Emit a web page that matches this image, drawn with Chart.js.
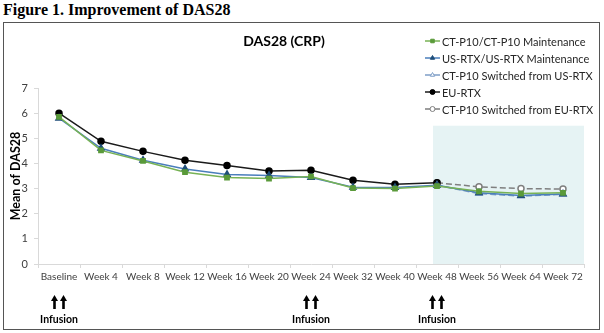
<!DOCTYPE html>
<html>
<head>
<meta charset="utf-8">
<script src="https://cdn.jsdelivr.net/npm/chart.js@4/dist/chart.umd.min.js"></script>
<style>
  html, body { margin: 0; padding: 0; background: #fff; }
  #page { position: relative; width: 604px; height: 333px; overflow: hidden; }
  #figTitle {
    position: absolute; left: 3px; top: 1px;
    font-family: "Liberation Serif", serif; font-weight: bold; font-size: 16px; color: #000;
  }
  #frame {
    position: absolute; left: 3px; top: 22px; width: 595px; height: 306px;
    border: 1px solid #555;
  }
  #frame canvas { position: absolute; left: 0; top: 0; }
</style>
</head>
<body>
<div id="page">
  <div id="figTitle">Figure 1. Improvement of DAS28</div>
  <div id="frame"><canvas id="dasChart" width="595" height="306"></canvas></div>
</div>
<script>
var weeks = ["Baseline", "Week 4", "Week 8", "Week 12", "Week 16", "Week 20", "Week 24",
             "Week 32", "Week 40", "Week 48", "Week 56", "Week 64", "Week 72"];
var ctp10Maint = [5.85, 4.52, 4.10, 3.65, 3.44, 3.40, 3.48, 3.02, 3.00, 3.10, 2.89, 2.80, 2.83];
var usRtxMaint = [5.80, 4.60, 4.13, 3.78, 3.56, 3.52, 3.44, 3.05, 3.04, 3.13, 2.83, 2.72, 2.78];
var switchedFromUs = [null, null, null, null, null, null, null, null, null, 3.13, 2.80, 2.70, 2.77];
var euRtx = [6.00, 4.88, 4.48, 4.13, 3.92, 3.70, 3.73, 3.33, 3.17, 3.23, null, null, null];
var switchedFromEu = [null, null, null, null, null, null, null, null, null, 3.23, 3.07, 3.00, 2.98];
var yTicks = [0, 1, 2, 3, 4, 5, 6, 7];
var infusionAt = ["Baseline", "Week 24", "Week 48"];
var maintenanceFrom = "Week 48";

var FONT = "Lato, 'Open Sans', sans-serif";

// shaded maintenance period behind the lines
var shadePlugin = {
  id: 'shade',
  beforeDatasetsDraw: function (chart) {
    var x = chart.scales.x, y = chart.scales.y, ctx = chart.ctx;
    var left = x.getPixelForValue(weeks.indexOf(maintenanceFrom)) - 4;
    ctx.save();
    ctx.fillStyle = '#e6f3f4';
    ctx.fillRect(left, y.getPixelForValue(5.5), chart.chartArea.right - left, y.getPixelForValue(0) - y.getPixelForValue(5.5));
    ctx.restore();
  }
};

// title, legend and infusion markers
var extrasPlugin = {
  id: 'extras',
  afterDraw: function (chart) {
    var ctx = chart.ctx, x = chart.scales.x;
    ctx.save();
    ctx.fillStyle = '#000';
    ctx.font = 'bold 14px ' + FONT;
    ctx.textAlign = 'center';
    ctx.textBaseline = 'middle';
    ctx.fillText('DAS28 (CRP)', 280, 18);

    // legend
    ctx.font = '11px ' + FONT;
    ctx.textAlign = 'left';
    chart.data.datasets.forEach(function (ds, i) {
      var yy = 18 + i * 17;
      ctx.save();
      ctx.strokeStyle = ds.borderColor;
      ctx.lineWidth = ds.borderWidth;
      ctx.setLineDash(ds.borderDash || []);
      ctx.beginPath();
      ctx.moveTo(421, yy);
      ctx.lineTo(436, yy);
      ctx.stroke();
      ctx.setLineDash([]);
      ctx.fillStyle = ds.pointBackgroundColor;
      ctx.strokeStyle = ds.pointBorderColor;
      ctx.lineWidth = 1;
      Chart.helpers.drawPoint(ctx, { pointStyle: ds.pointStyle, radius: 2.5, rotation: 0, borderWidth: 1 }, 428.5, yy);
      ctx.restore();
      ctx.fillStyle = '#262626';
      ctx.fillText(ds.label, 438, yy + 1);
    });

    // infusion arrows
    infusionAt.forEach(function (w) {
      var cx = x.getPixelForValue(weeks.indexOf(w));
      [-4.5, 4.5].forEach(function (dx) {
        var ax = cx + dx;
        ctx.fillStyle = '#000';
        ctx.fillRect(ax - 1.3, 277, 2.6, 9);
        ctx.beginPath();
        ctx.moveTo(ax - 3.5, 278);
        ctx.lineTo(ax + 3.5, 278);
        ctx.lineTo(ax, 272);
        ctx.closePath();
        ctx.fill();
      });
      ctx.font = 'bold 10.5px ' + FONT;
      ctx.textAlign = 'center';
      ctx.fillText('Infusion', cx, 297);
    });
    ctx.restore();
  }
};

new Chart('dasChart', {
  type: 'line',
  data: {
    labels: weeks,
    datasets: [
      {
        label: 'CT-P10/CT-P10 Maintenance',
        data: ctp10Maint,
        borderColor: '#77b255',
        borderWidth: 1.5,
        pointStyle: 'rect',
        pointRadius: 3,
        pointBackgroundColor: '#5a9a3a',
        pointBorderColor: '#5a9a3a'
      },
      {
        label: 'US-RTX/US-RTX Maintenance',
        data: usRtxMaint,
        borderColor: '#4a7ebb',
        borderWidth: 1.5,
        pointStyle: 'triangle',
        pointRadius: 3.5,
        pointBackgroundColor: '#1f4e79',
        pointBorderColor: '#1f4e79'
      },
      {
        label: 'CT-P10 Switched from US-RTX',
        data: switchedFromUs,
        borderColor: '#7f9fc7',
        borderWidth: 1.5,
        borderDash: [6, 3],
        pointStyle: 'triangle',
        pointRadius: 3.5,
        pointBackgroundColor: '#ffffff',
        pointBorderColor: '#7f9fc7'
      },
      {
        label: 'EU-RTX',
        data: euRtx,
        borderColor: '#1a1a1a',
        borderWidth: 1.5,
        pointStyle: 'circle',
        pointRadius: 3,
        pointBackgroundColor: '#000000',
        pointBorderColor: '#000000'
      },
      {
        label: 'CT-P10 Switched from EU-RTX',
        data: switchedFromEu,
        borderColor: '#7f7f7f',
        borderWidth: 1.5,
        borderDash: [6, 3],
        pointStyle: 'circle',
        pointRadius: 3,
        pointBackgroundColor: '#ffffff',
        pointBorderColor: '#7f7f7f'
      }
    ]
  },
  options: {
    responsive: false,
    animation: false,
    spanGaps: false,
    layout: { padding: { top: 65, right: 15, left: 0, bottom: 0 } },
    elements: { line: { tension: 0 } },
    plugins: {
      legend: { display: false },
      tooltip: { enabled: false }
    },
    scales: {
      x: {
        offset: true,
        afterFit: function (scale) { scale.height = 65; },
        grid: {
          offset: true,
          drawOnChartArea: false,
          drawTicks: true,
          tickLength: 4,
          color: '#d9d9d9'
        },
        border: { color: '#d9d9d9' },
        ticks: {
          padding: 3,
          maxRotation: 0,
          autoSkip: false,
          color: '#404040',
          font: { family: FONT, size: 10 }
        }
      },
      y: {
        min: 0,
        max: 7,
        afterFit: function (scale) { scale.width = 34; },
        afterBuildTicks: function (scale) {
          scale.ticks = yTicks.map(function (v) { return { value: v }; });
        },
        grid: {
          drawOnChartArea: false,
          drawTicks: true,
          tickLength: 4,
          color: '#d9d9d9'
        },
        border: { color: '#d9d9d9' },
        ticks: {
          padding: 6,
          color: '#404040',
          font: { family: FONT, size: 11 }
        },
        title: {
          display: true,
          text: 'Mean of DAS28',
          color: '#000',
          padding: { top: 4, bottom: 0 },
          font: { family: FONT, size: 12.5, weight: 'bold' }
        }
      }
    }
  },
  plugins: [shadePlugin, extrasPlugin]
});
</script>
</body>
</html>
